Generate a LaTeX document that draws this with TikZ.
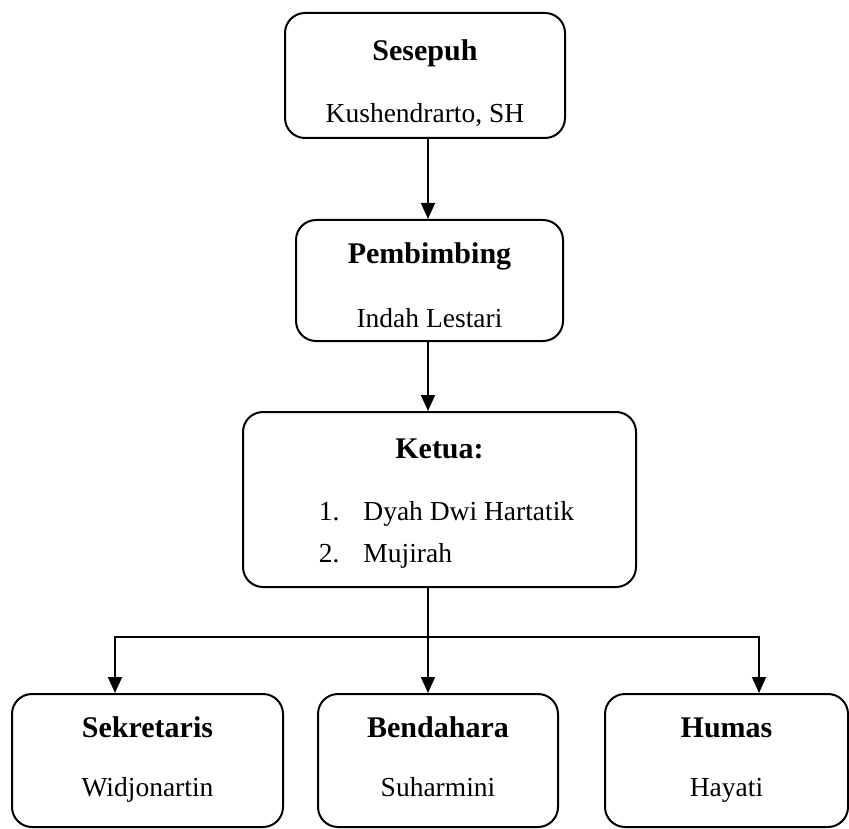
\documentclass[tikz,border=0pt]{standalone}
\usepackage{fontspec}
\setmainfont{Liberation Serif}
\usepackage{tikz}
\usetikzlibrary{positioning, arrows.meta}
\tikzstyle{orgbox} = [rectangle, rounded corners=20pt, draw=black, line width=2pt, align=center, font=\fontsize{27.5}{33}\selectfont]
\tikzstyle{arrow} = [line width=1.8pt, -{Triangle[length=16pt,width=14pt]}]
\newcommand{\boxtitle}[1]{{\fontsize{30}{33}\selectfont\bfseries #1}}

\begin{document}
\begin{tikzpicture}
    \useasboundingbox (0,0) rectangle (849pt,-829pt);
        \node (sesepuh) [orgbox, minimum width=280pt, minimum height=125pt] at (425pt,-75.5pt) {\rule{0pt}{41pt}\boxtitle{Sesepuh}\\[29pt]Kushendrarto, SH\strut};
        \node (pembimbing) [orgbox, below=80pt of sesepuh, xshift=4.5pt, minimum width=267pt, minimum height=121pt] {\rule{0pt}{39pt}\boxtitle{Pembimbing}\\[31pt]Indah Lestari\strut};
        \node (ketua) [orgbox, below=69pt of pembimbing, xshift=10pt, minimum width=393pt, minimum height=175pt] {\rule{0pt}{31pt}\boxtitle{Ketua:}\\[29pt]\hspace*{14pt}\begin{tabular}[t]{@{}l@{\hspace{24pt}}l@{}}1. & Dyah Dwi Hartatik\\[9pt] 2. & Mujirah\end{tabular}};
        \node (bendahara) [orgbox, below=105pt of ketua, xshift=-1.5pt, minimum width=240pt, minimum height=133pt] {\strut\boxtitle{Bendahara}\\[26pt]Suharmini\strut};
        \node (sekretaris) [orgbox, left=33pt of bendahara, minimum width=271pt, minimum height=133pt] {\strut\boxtitle{Sekretaris}\\[26pt]Widjonartin\strut};
        \node (humas) [orgbox, right=45pt of bendahara, minimum width=243pt, minimum height=133pt] {\strut\boxtitle{Humas}\\[26pt]Hayati\strut};

        % spine and branch line
        \coordinate (spine) at (428pt,0pt);
        \coordinate (branch) at (428pt,-637pt);

        \draw [arrow] (spine |- sesepuh.south) -- (spine |- pembimbing.north);
        \draw [arrow] (spine |- pembimbing.south) -- (spine |- ketua.north);
        \draw [arrow] (spine |- ketua.south) -- (spine |- bendahara.north);
        \draw [arrow] (branch) -| ([xshift=-32.5pt]sekretaris.north);
        \draw [arrow] (branch) -| ([xshift=32.5pt]humas.north);
\end{tikzpicture}
\end{document}
